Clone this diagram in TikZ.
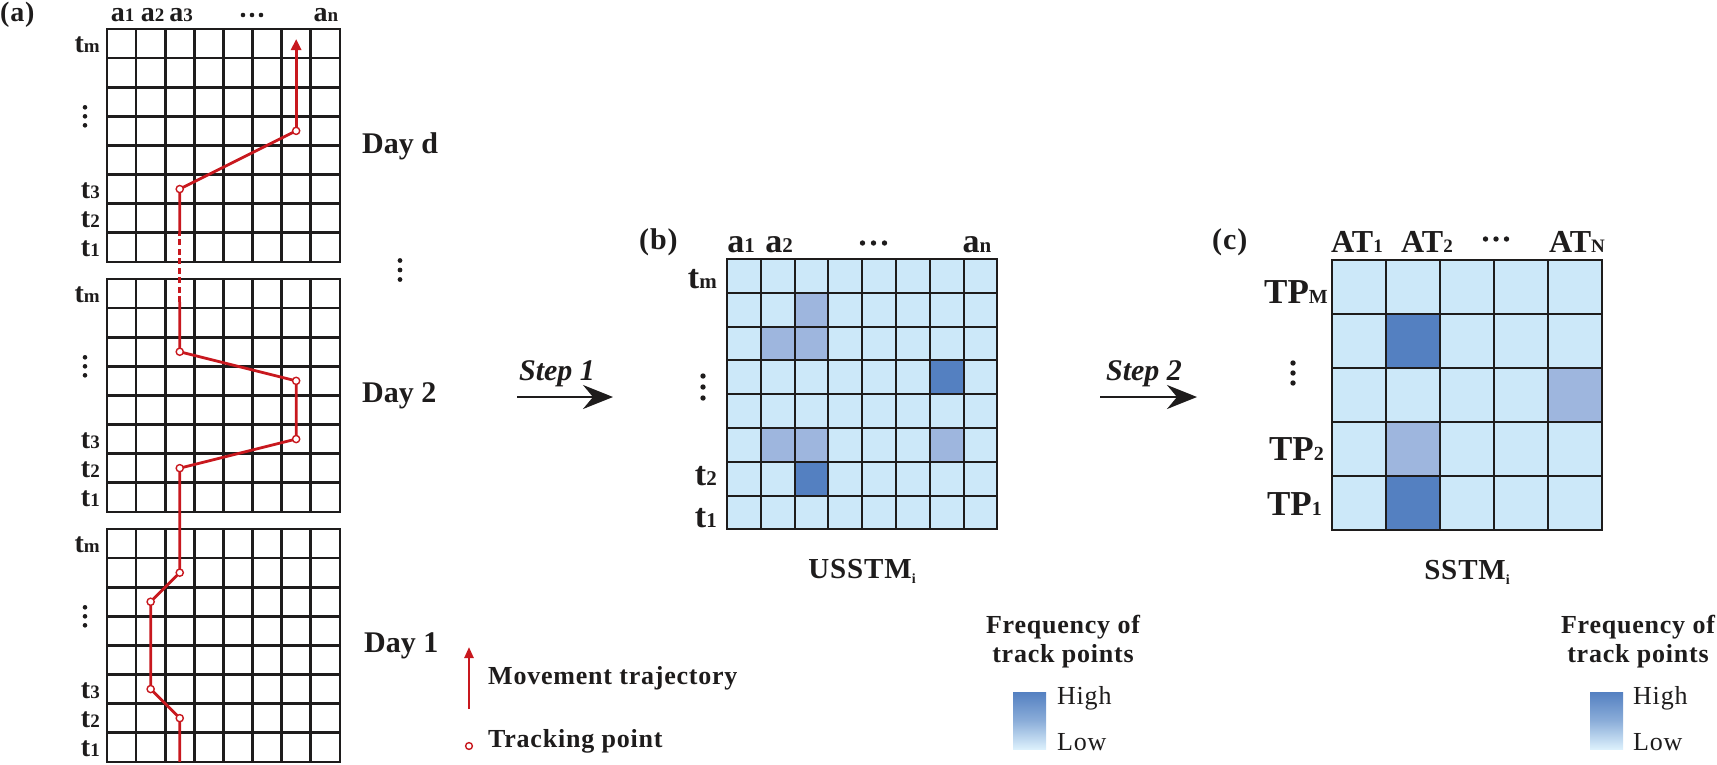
\documentclass[tikz,border=0pt]{standalone}
\usepackage{fontspec}
\setmainfont{Liberation Serif}
\newfontfamily\lsp[LetterSpace=3]{Liberation Serif}
\usetikzlibrary{arrows.meta}
\definecolor{trajred}{RGB}{200,24,30}
\definecolor{cellL}{RGB}{204,232,249}
\definecolor{cellM}{RGB}{158,182,222}
\definecolor{cellD}{RGB}{84,128,193}
\definecolor{gridk}{RGB}{30,28,28}
\definecolor{gradlow}{RGB}{220,240,252}
\newcommand{\fs}[1]{\fontsize{#1}{#1}\selectfont}
\newcommand{\mydotsv}[4]{\foreach \k in {-1,0,1} {\fill[gridk] ({#1},{#2+(\k)*#3}) circle (#4);}}
\newcommand{\mydotsh}[4]{\foreach \k in {-1,0,1} {\fill[gridk] ({#1+(\k)*#3},{#2}) circle (#4);}}
\begin{document}
\begin{tikzpicture}[x=1pt,y=-1pt,
  lab/.style={inner sep=0pt, text=gridk},
  gline/.style={draw=gridk, line width=2.6pt},
  bline/.style={draw=gridk, line width=2.1pt},
  traj/.style={draw=trajred, line width=2.8pt},
  tpt/.style={draw=trajred, fill=white, line width=1.4pt},
  steparrow/.style={draw=gridk, line width=2.4pt, -{Stealth[length=30pt,width=24pt,inset=10pt]}}
]
\useasboundingbox (0,0) rectangle (1717,764);

% ---------------- panel (a) grids ----------------
\foreach \T in {29,279,529} {
  \foreach \i in {1,...,7} {
    \draw[gline] ({107+\i*29.1},\T) -- ({107+\i*29.1},{\T+232.8});
    \draw[gline] (107,{\T+\i*29.1}) -- (339.8,{\T+\i*29.1});
  }
  \draw[gline] (107,\T) rectangle (339.8,{\T+232.8});
  % row labels
  \node[lab,anchor=base east] at (100,{\T+14.55+9}) {\bfseries\fs{28}t{\fs{19}m}};
  \node[lab,anchor=base east] at (100,{\T+5.5*29.1+9}) {\bfseries\fs{28}t{\fs{19}3}};
  \node[lab,anchor=base east] at (100,{\T+6.5*29.1+9}) {\bfseries\fs{28}t{\fs{19}2}};
  \node[lab,anchor=base east] at (100,{\T+7.5*29.1+9}) {\bfseries\fs{28}t{\fs{19}1}};
  \mydotsv{85}{\T+87.3}{9}{2.3}
}

% panel label and column labels
\node[lab,anchor=base west] (pa) at (0,21.5) {\lsp\bfseries\fs{28}(a)};
\node[lab,anchor=base] (aa1) at (122.5,21) {\bfseries\fs{28}a{\fs{19}1}};
\node[lab,anchor=base] (aa2) at (152.5,21) {\bfseries\fs{28}a{\fs{19}2}};
\node[lab,anchor=base] (aa3) at (181,21) {\bfseries\fs{28}a{\fs{19}3}};
\node[lab,anchor=base] (aan) at (326,21) {\bfseries\fs{28}a{\fs{19}n}};
\mydotsh{252}{15}{9}{2.3}

% day labels
\node[lab,anchor=base west] (dayd) at (362,153) {\bfseries\fs{30}Day d};
\node[lab,anchor=base west] (day2) at (362,402) {\bfseries\fs{30}Day 2};
\node[lab,anchor=base west] (day1) at (364,652) {\bfseries\fs{30}Day 1};
\mydotsv{400}{270}{9.5}{2.4}

% trajectory points
\coordinate (d0) at (179.75,189.05);
\coordinate (d1) at (296.15,130.85);
\coordinate (dtip) at (296.15,39);
\coordinate (dashA) at (179.75,233);
\coordinate (dashB) at (179.75,302);
\coordinate (w0) at (179.75,351.75);
\coordinate (w1) at (296.15,380.85);
\coordinate (w2) at (296.15,439.05);
\coordinate (w3) at (179.75,468.15);
\coordinate (o0) at (179.75,572.65);
\coordinate (o1) at (150.65,601.75);
\coordinate (o2) at (150.65,689.05);
\coordinate (o3) at (179.75,718.15);
\coordinate (oend) at (179.75,761.8);

\draw[traj,line join=round] (oend) -- (o3) -- (o2) -- (o1) -- (o0) -- (w3) -- (w2) -- (w1) -- (w0) -- (dashB);
\draw[traj,dash pattern=on 6pt off 3.5pt] (dashB) -- (dashA);
\draw[traj,line join=round] (dashA) -- (d0) -- (d1);
\draw[traj,-{Triangle[length=11pt,width=10pt]}] (d1) -- (dtip);
\foreach \p in {d0,d1,w0,w1,w2,w3,o0,o1,o2,o3} {\draw[tpt] (\p) circle (3.6);}

% legend (a)
\coordinate (lgA) at (469,709);
\coordinate (lgB) at (469,647);
\draw[traj,line width=2.4pt,-{Triangle[length=11pt,width=9pt]}] (lgA) -- (lgB);
\draw[tpt] (469,746) circle (3.4);
\node[lab,anchor=base west] (mt) at (488,684) {\lsp\bfseries\fs{26}Movement trajectory};
\node[lab,anchor=base west] (tp) at (488,747) {\lsp\bfseries\fs{26}Tracking point};

% ---------------- step arrows ----------------
\coordinate (s1a) at (517,397);
\coordinate (s1b) at (613,397);
\draw[steparrow] (s1a) -- (s1b);
\node[lab,anchor=base] (st1) at (557,380) {\bfseries\itshape\fs{30}Step 1};
\coordinate (s2a) at (1100,397);
\coordinate (s2b) at (1197,397);
\draw[steparrow] (s2a) -- (s2b);
\node[lab,anchor=base] (st2) at (1144,380) {\bfseries\itshape\fs{30}Step 2};

% ---------------- panel (b) ----------------
\fill[cellL] (727,259) rectangle (997.4,529.4);
\foreach \c/\r/\col in {2/1/cellM,1/2/cellM,2/2/cellM,6/3/cellD,1/5/cellM,2/5/cellM,6/5/cellM,2/6/cellD} {
  \fill[\col] ({727+\c*33.8},{259+\r*33.8}) rectangle ++(33.8,33.8);
}
\foreach \i in {1,...,7} {
  \draw[bline] ({727+\i*33.8},259) -- ({727+\i*33.8},529.4);
  \draw[bline] (727,{259+\i*33.8}) -- (997.4,{259+\i*33.8});
}
\draw[bline] (727,259) rectangle (997.4,529.4);
\node[lab,anchor=base west] (pb) at (639,249) {\lsp\bfseries\fs{30}(b)};
\node[lab,anchor=base] (ba1) at (741,252) {\bfseries\fs{34}a{\fs{21}1}};
\node[lab,anchor=base] (ba2) at (779,252) {\bfseries\fs{34}a{\fs{21}2}};
\node[lab,anchor=base] (ban) at (977,252) {\bfseries\fs{34}a{\fs{21}n}};
\mydotsh{873.5}{243}{11}{2.7}
\node[lab,anchor=base east] (btm) at (717,288) {\bfseries\fs{34}t{\fs{21}m}};
\node[lab,anchor=base east] (bt2) at (717,485) {\bfseries\fs{34}t{\fs{21}2}};
\node[lab,anchor=base east] (bt1) at (717,527) {\bfseries\fs{34}t{\fs{21}1}};
\mydotsv{703}{387}{11}{2.7}
\node[lab,anchor=base] (usstm) at (862,578) {\lsp\bfseries\fs{29}USSTM\raisebox{-5pt}{\fs{14}i}};

% legend (b)
\node[lab,anchor=base] (fb1) at (1063,633) {\lsp\bfseries\fs{26}Frequency of};
\node[lab,anchor=base] (fb2) at (1063,662) {\lsp\bfseries\fs{26}track points};
\shade[top color=cellD, bottom color=gradlow, middle color=cellD!60!gradlow] (1013,692) rectangle (1046,749);
\node[lab,anchor=base west] (hb) at (1057,704) {\lsp\fs{26}High};
\node[lab,anchor=base west] (lb) at (1057,750) {\lsp\fs{26}Low};

% ---------------- panel (c) ----------------
\fill[cellL] (1332,260) rectangle (1602,530);
\foreach \c/\r/\col in {1/1/cellD,4/2/cellM,1/3/cellM,1/4/cellD} {
  \fill[\col] ({1332+\c*54},{260+\r*54}) rectangle ++(54,54);
}
\foreach \i in {1,...,4} {
  \draw[bline] ({1332+\i*54},260) -- ({1332+\i*54},530);
  \draw[bline] (1332,{260+\i*54}) -- (1602,{260+\i*54});
}
\draw[bline] (1332,260) rectangle (1602,530);
\node[lab,anchor=base west] (pc) at (1212,249) {\lsp\bfseries\fs{30}(c)};
\node[lab,anchor=base] (cat1) at (1357,252) {\bfseries\fs{32}AT{\fs{19}1}};
\node[lab,anchor=base] (cat2) at (1427,252) {\bfseries\fs{32}AT{\fs{19}2}};
\node[lab,anchor=base] (catn) at (1577,252) {\bfseries\fs{32}AT{\fs{19}N}};
\mydotsh{1496}{239}{10.5}{2.7}
\node[lab,anchor=base east] (ctpm) at (1328,303) {\bfseries\fs{35}TP{\fs{20}M}};
\node[lab,anchor=base east] (ctp2) at (1324,460) {\bfseries\fs{35}TP{\fs{20}2}};
\node[lab,anchor=base east] (ctp1) at (1322,515) {\bfseries\fs{35}TP{\fs{20}1}};
\mydotsv{1293}{373}{10}{2.7}
\node[lab,anchor=base] (sstm) at (1467,579) {\lsp\bfseries\fs{29}SSTM\raisebox{-5pt}{\fs{14}i}};

% legend (c)
\node[lab,anchor=base] (fc1) at (1638,633) {\lsp\bfseries\fs{26}Frequency of};
\node[lab,anchor=base] (fc2) at (1638,662) {\lsp\bfseries\fs{26}track points};
\shade[top color=cellD, bottom color=gradlow, middle color=cellD!60!gradlow] (1590,692) rectangle (1623,749);
\node[lab,anchor=base west] (hc) at (1633,704) {\lsp\fs{26}High};
\node[lab,anchor=base west] (lc) at (1633,750) {\lsp\fs{26}Low};
\end{tikzpicture}
\end{document}
